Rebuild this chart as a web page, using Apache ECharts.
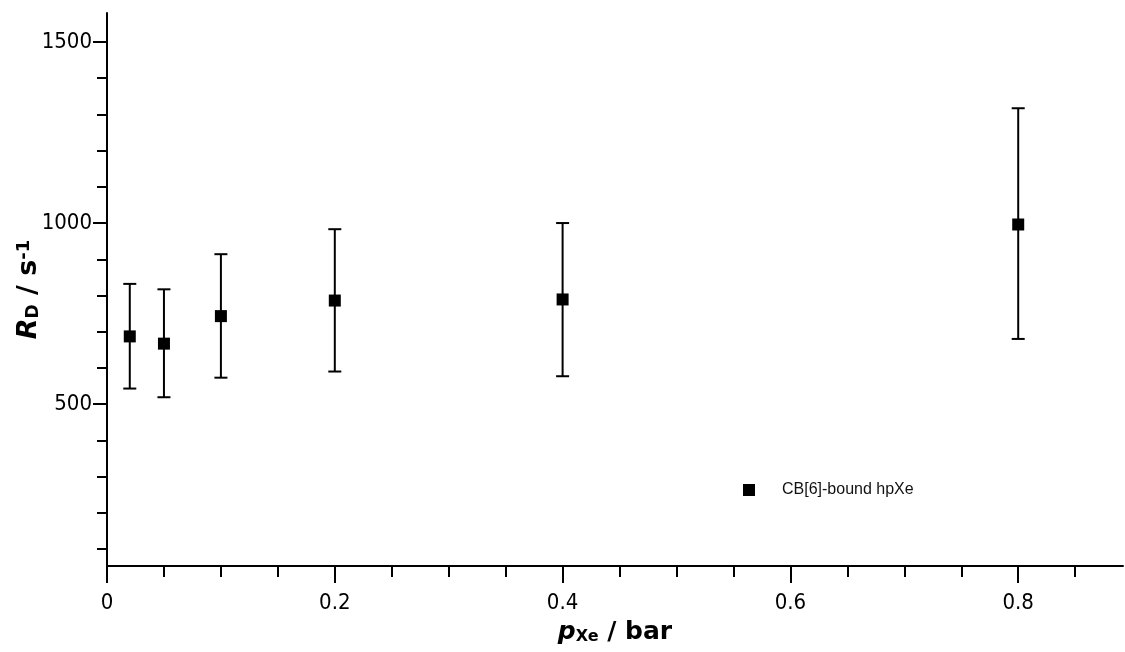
<!DOCTYPE html>
<html>
<head>
<meta charset="utf-8">
<script src="https://cdn.jsdelivr.net/npm/echarts@6/dist/echarts.min.js"></script>
<style>html,body{margin:0;padding:0;background:#fff}#c{width:1125px;height:652px}</style>
</head>
<body>
<div id="c"></div>
<script>
// Data
const pressures = [0.02, 0.05, 0.1, 0.2, 0.4, 0.8];
const rates     = [687, 667, 743, 786, 789, 996];
const errLow    = [543, 519, 573, 590, 577, 680];
const errHigh   = [832, 817, 914, 983, 1000, 1317];
const seriesName = 'CB[6]-bound hpXe';
const xMajorTicks = [0, 0.2, 0.4, 0.6, 0.8];
const xMinorTicks = [0.05, 0.1, 0.15, 0.25, 0.3, 0.35, 0.45, 0.5, 0.55, 0.65, 0.7, 0.75, 0.85];
const yMajorTicks = [500, 1000, 1500];
const yMinorTicks = [100, 200, 300, 400, 600, 700, 800, 900, 1100, 1200, 1300, 1400];

const X_MIN = 0, X_MAX = 0.892, Y_MIN = 53, Y_MAX = 1580;
const GRID_LEFT = 107, GRID_RIGHT = 2, CHART_W = 1125;

const chart = echarts.init(document.getElementById('c'), null, {renderer: 'canvas'});
const lblFont = '"DejaVu Sans Condensed", "DejaVu Sans"';
const titleFont = 'DejaVu Sans';

const scatterData = pressures.map((x, i) => [x, rates[i]]);
const errData = pressures.map((x, i) => [x, errLow[i], errHigh[i]]);

function xAxisBase(extra) {
  return Object.assign({
    type: 'value', min: X_MIN, max: X_MAX, gridIndex: 0, position: 'bottom', offset: 0,
    splitLine: {show: false},
    axisLine: {show: true, onZero: false, lineStyle: {color: '#000', width: 2}},
  }, extra);
}
function yAxisBase(extra) {
  return Object.assign({
    type: 'value', min: Y_MIN, max: Y_MAX, gridIndex: 0, position: 'left', offset: 0,
    splitLine: {show: false},
    axisLine: {show: true, onZero: false, lineStyle: {color: '#000', width: 2}},
  }, extra);
}
const plain = v => String(v);

chart.setOption({
  backgroundColor: '#fff',
  animation: false,
  grid: {left: GRID_LEFT, right: GRID_RIGHT, top: 13, bottom: 86, containLabel: false, outerBoundsMode: 'none'},
  legend: {
    data: [{name: seriesName, icon: 'rect'}],
    left: 738, top: 477,
    itemWidth: 12, itemHeight: 12,
    textStyle: {fontFamily: 'Liberation Sans', fontSize: 16, color: '#111', padding: [0, 0, 0, 22]}
  },
  xAxis: [
    xAxisBase({
      name: '{p|p}{sub|Xe}{n| / bar}',
      nameLocation: 'middle', nameGap: 54, nameMoveOverlap: false,
      nameTextStyle: {
        rich: {
          p: {fontFamily: titleFont, fontSize: 25, fontWeight: 'bold', fontStyle: 'italic', color: '#000', verticalAlign: 'bottom'},
          sub: {fontFamily: titleFont, fontSize: 16, fontWeight: 'bold', color: '#000', verticalAlign: 'bottom', lineHeight: 22},
          n: {fontFamily: titleFont, fontSize: 25, fontWeight: 'bold', color: '#000', verticalAlign: 'bottom'}
        }
      },
      axisTick: {show: true, inside: false, length: 17, lineStyle: {color: '#000', width: 2}, customValues: xMajorTicks},
      axisLabel: {show: true, customValues: xMajorTicks, margin: 26, fontFamily: lblFont, fontSize: 22, color: '#000', formatter: plain}
    }),
    xAxisBase({
      axisLine: {show: false, onZero: false},
      axisTick: {show: true, inside: false, length: 11, lineStyle: {color: '#000', width: 2}, customValues: xMinorTicks},
      axisLabel: {show: false}
    })
  ],
  yAxis: [
    yAxisBase({
      name: '{r|R}{sub|D}{n| / s}{sup|-1}',
      nameLocation: 'middle', nameGap: 65, nameRotate: 90, nameMoveOverlap: false,
      nameTextStyle: {
        rich: {
          r: {fontFamily: titleFont, fontSize: 27, fontWeight: 'bold', fontStyle: 'italic', color: '#000', verticalAlign: 'bottom'},
          sub: {fontFamily: titleFont, fontSize: 17, fontWeight: 'bold', color: '#000', verticalAlign: 'bottom', lineHeight: 24},
          n: {fontFamily: titleFont, fontSize: 27, fontWeight: 'bold', color: '#000', verticalAlign: 'bottom'},
          sup: {fontFamily: titleFont, fontSize: 18, fontWeight: 'bold', color: '#000', verticalAlign: 'top', lineHeight: 18}
        }
      },
      axisTick: {show: true, inside: false, length: 14, lineStyle: {color: '#000', width: 2}, customValues: yMajorTicks},
      axisLabel: {show: true, customValues: yMajorTicks, margin: 15, fontFamily: lblFont, fontSize: 22, color: '#000', formatter: plain}
    }),
    yAxisBase({
      position: 'right',
      offset: -(CHART_W - GRID_LEFT - GRID_RIGHT),
      axisLine: {show: false, onZero: false},
      axisTick: {show: true, inside: true, length: 10, lineStyle: {color: '#000', width: 2}, customValues: yMinorTicks},
      axisLabel: {show: false}
    })
  ],
  series: [
    {
      type: 'custom',
      name: 'err',
      xAxisIndex: 0, yAxisIndex: 0,
      data: errData,
      encode: {x: 0, y: [1, 2]},
      z: 2,
      renderItem: function (params, api) {
        const x = api.value(0);
        const lo = api.coord([x, api.value(1)]);
        const hi = api.coord([x, api.value(2)]);
        const w = 6.5;
        const st = {stroke: '#000', lineWidth: 2};
        return {
          type: 'group',
          children: [
            {type: 'line', shape: {x1: lo[0], y1: lo[1], x2: hi[0], y2: hi[1]}, style: st},
            {type: 'line', shape: {x1: hi[0] - w, y1: hi[1], x2: hi[0] + w, y2: hi[1]}, style: st},
            {type: 'line', shape: {x1: lo[0] - w, y1: lo[1], x2: lo[0] + w, y2: lo[1]}, style: st}
          ]
        };
      }
    },
    {
      type: 'scatter',
      name: seriesName,
      xAxisIndex: 0, yAxisIndex: 0,
      data: scatterData,
      symbol: 'rect',
      symbolSize: 12,
      itemStyle: {color: '#000', opacity: 1},
      z: 3
    }
  ]
});
</script>
</body>
</html>
